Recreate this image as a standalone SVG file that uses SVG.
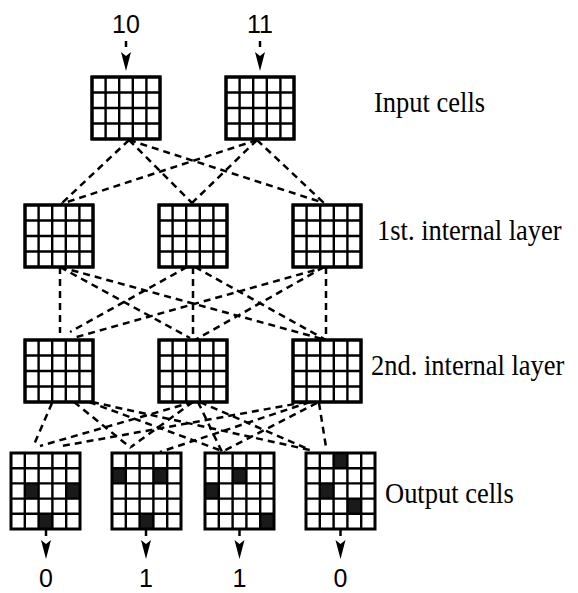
<svg xmlns="http://www.w3.org/2000/svg" xmlns:xlink="http://www.w3.org/1999/xlink" width="578" height="593" viewBox="0 0 578 593">
<style>
.grid{fill:none;stroke:#000;stroke-width:2.4}
.frame{fill:#fff;stroke:#000;stroke-width:3}
.blk{fill:#1a1a1a}
.dash{fill:none;stroke:#000;stroke-width:2.5;stroke-dasharray:7 5}
.stem{fill:none;stroke:#000;stroke-width:2.5;stroke-dasharray:6 30}
.num{font-family:"Liberation Sans",Arial,sans-serif;font-size:25px;fill:#000;text-anchor:middle}
.lbl{font-family:"Liberation Serif","Times New Roman",serif;font-size:26.5px;fill:#000}
</style>
<defs>
<marker id="ah" markerUnits="userSpaceOnUse" markerWidth="20" markerHeight="12" refX="0" refY="0" viewBox="0 -6 20 12" orient="auto">
<path d="M0,-5 L4,0 L0,5 L19,0 Z" fill="#000"/>
</marker>
<g id="g54">
<rect class="frame" x="0" y="0" width="68" height="62"/>
<path class="grid" d="M13.6,0V62M27.2,0V62M40.8,0V62M54.4,0V62M0,15.5H68M0,31H68M0,46.5H68"/>
<rect x="0" y="0" width="68" height="62" fill="none" stroke="#000" stroke-width="3"/>
</g>
<g id="g55">
<path class="grid" d="M13.8,0V76M27.6,0V76M41.4,0V76M55.2,0V76M0,15.2H69M0,30.4H69M0,45.6H69M0,60.8H69"/>
<rect x="0" y="0" width="69" height="76" fill="none" stroke="#000" stroke-width="3"/>
</g>
</defs>

<g id="connectors">
<!-- input to layer 1 -->
<path class="dash" d="M129,140L61,204"/>
<path class="dash" d="M129,140L192,203"/>
<path class="dash" d="M129,140L324,203"/>
<path class="dash" d="M257,140L61,204"/>
<path class="dash" d="M257,140L192,203"/>
<path class="dash" d="M257,140L324,203"/>
<!-- layer 1 to layer 2 -->
<path class="dash" d="M60,267L60,333"/>
<path class="dash" d="M60,267L190,338"/>
<path class="dash" d="M60,267L326,340"/>
<path class="dash" d="M187,267L70,332"/>
<path class="dash" d="M193,267L193,338"/>
<path class="dash" d="M195,267L326,340"/>
<path class="dash" d="M326,267L73,338"/>
<path class="dash" d="M324,267L195,340"/>
<path class="dash" d="M326,267L326,338"/>
<!-- layer 2 to output -->
<path class="dash" d="M52,403L33,447"/>
<path class="dash" d="M74,402L131,448"/>
<path class="dash" d="M89,402L225,452"/>
<path class="dash" d="M92,402L310,450"/>
<path class="dash" d="M193,402L40,446"/>
<path class="dash" d="M193,402L131,447"/>
<path class="dash" d="M198,402L222,452"/>
<path class="dash" d="M200,402L310,450"/>
<path class="dash" d="M306,402L62,446"/>
<path class="dash" d="M310,402L160,452"/>
<path class="dash" d="M317,403L210,458"/>
<path class="dash" d="M319,403L326,447"/>
<!-- in/out arrows -->
<path class="stem" d="M126,41V52" marker-end="url(#ah)"/>
<path class="stem" d="M260,41V52" marker-end="url(#ah)"/>
<path class="stem" d="M46,530V540" marker-end="url(#ah)"/>
<path class="stem" d="M146,530V540" marker-end="url(#ah)"/>
<path class="stem" d="M239.5,530V540" marker-end="url(#ah)"/>
<path class="stem" d="M340.5,530V540" marker-end="url(#ah)"/>
</g>

<g id="in10"><text class="num" x="126" y="33">10</text></g>
<g id="in11"><text class="num" x="260" y="33">11</text></g>

<g id="input1"><use xlink:href="#g54" x="92" y="77"/></g>
<g id="input2"><use xlink:href="#g54" x="226" y="77"/></g>

<g id="l1a"><use xlink:href="#g54" x="25" y="205"/></g>
<g id="l1b"><use xlink:href="#g54" x="159" y="205"/></g>
<g id="l1c"><use xlink:href="#g54" x="293" y="205"/></g>

<g id="l2a"><use xlink:href="#g54" x="25" y="340"/></g>
<g id="l2b"><use xlink:href="#g54" x="159" y="340"/></g>
<g id="l2c"><use xlink:href="#g54" x="293" y="340"/></g>

<g id="out1" transform="translate(11,453)">
<rect x="0" y="0" width="69" height="76" fill="#fff"/>
<rect class="blk" x="13.8" y="30.4" width="13.8" height="15.2"/>
<rect class="blk" x="55.2" y="30.4" width="13.8" height="15.2"/>
<rect class="blk" x="27.6" y="60.8" width="13.8" height="15.2"/>
<use xlink:href="#g55"/>
</g>
<g id="out2" transform="translate(112,453)">
<rect x="0" y="0" width="69" height="76" fill="#fff"/>
<rect class="blk" x="0" y="15.2" width="13.8" height="15.2"/>
<rect class="blk" x="41.4" y="15.2" width="13.8" height="15.2"/>
<rect class="blk" x="27.6" y="60.8" width="13.8" height="15.2"/>
<use xlink:href="#g55"/>
</g>
<g id="out3" transform="translate(205,453)">
<rect x="0" y="0" width="69" height="76" fill="#fff"/>
<rect class="blk" x="27.6" y="15.2" width="13.8" height="15.2"/>
<rect class="blk" x="0" y="30.4" width="13.8" height="15.2"/>
<rect class="blk" x="55.2" y="60.8" width="13.8" height="15.2"/>
<use xlink:href="#g55"/>
</g>
<g id="out4" transform="translate(306,453)">
<rect x="0" y="0" width="69" height="76" fill="#fff"/>
<rect class="blk" x="27.6" y="0" width="13.8" height="15.2"/>
<rect class="blk" x="13.8" y="30.4" width="13.8" height="15.2"/>
<rect class="blk" x="41.4" y="45.6" width="13.8" height="15.2"/>
<use xlink:href="#g55"/>
</g>

<g id="o0a"><text class="num" x="46" y="587">0</text></g>
<g id="o1a"><text class="num" x="146" y="587">1</text></g>
<g id="o1b"><text class="num" x="239.5" y="587">1</text></g>
<g id="o0b"><text class="num" x="340.5" y="587">0</text></g>

<g id="labels">
<text class="lbl" transform="translate(374,112) scale(1,1.1)">Input cells</text>
<text class="lbl" transform="translate(377,240) scale(1,1.1)">1st. internal layer</text>
<text class="lbl" transform="translate(371,375) scale(1,1.1)">2nd. internal layer</text>
<text class="lbl" transform="translate(385,503) scale(1,1.1)">Output cells</text>
</g>
</svg>
